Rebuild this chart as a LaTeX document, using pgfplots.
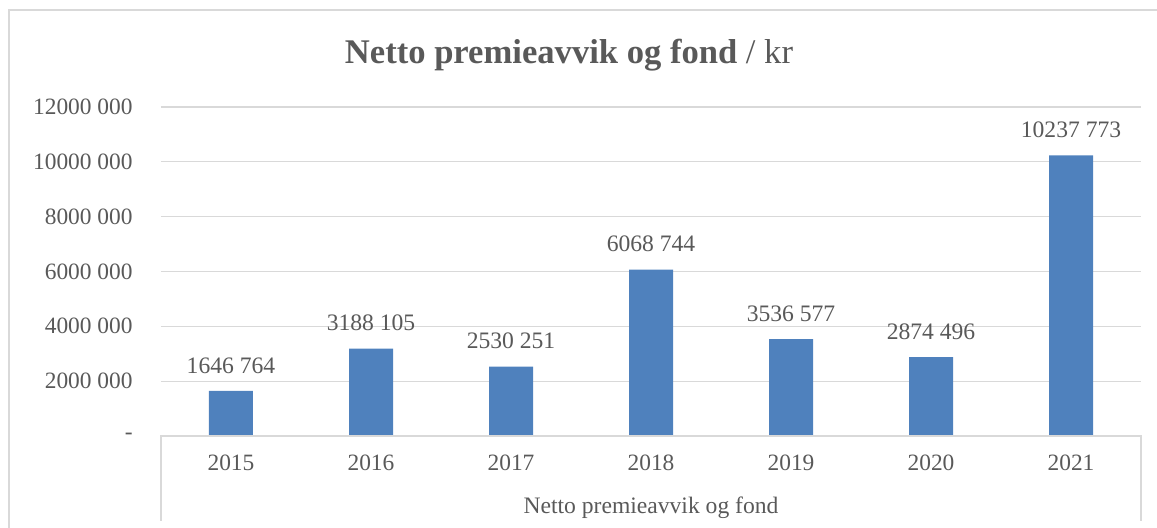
\documentclass[border=0pt]{standalone}
\usepackage{pgfplots}
\pgfplotsset{compat=1.18}
\usepackage{fontspec}
\setmainfont{Liberation Serif}
\definecolor{barblue}{HTML}{4F81BD}
\definecolor{txt}{HTML}{595959}
\definecolor{gridc}{HTML}{D9D9D9}
\definecolor{axc}{HTML}{D9D9D9}
\begin{document}
\begin{tikzpicture}
\path[use as bounding box] (0,0) rectangle (578.5pt,264pt);
\draw[gridc, line width=0.9pt] (4.5pt,0) -- (4.5pt,259pt) -- (578.5pt,259pt);
\begin{axis}[
  at={(80.5pt,46pt)}, anchor=south west,
  scale only axis, width=490pt, height=164.5pt,
  xmin=-0.5, xmax=6.5, ymin=0, ymax=12000000,
  xtick=data,
  xticklabels={2015,2016,2017,2018,2019,2020,2021},
  ytick={0,2000000,4000000,6000000,8000000,10000000,12000000},
  yticklabels={{-\hspace{6pt}},2000 000,4000 000,6000 000,8000 000,10000 000,12000 000},
  scaled y ticks=false,
  major tick length=0pt,
  axis line style={draw=none},
  ymajorgrids, grid style={gridc, line width=0.6pt},
  ticklabel style={font=\fontsize{11.7}{14}\selectfont, text=txt},
  xticklabel style={inner sep=0pt, anchor=north, yshift=-9.5pt},
  yticklabel style={inner sep=0pt, anchor=east, xshift=-14pt},
  point meta=explicit symbolic,
  nodes near coords,
  nodes near coords style={font=\fontsize{11.8}{14}\selectfont, text=txt, inner sep=0pt, anchor=south, yshift=8.5pt},
  clip=false,
]
\addplot[ybar, bar width=22pt, fill=barblue, draw=none] coordinates {
  (0,1646764) [1646 764]
  (1,3188105) [3188 105]
  (2,2530251) [2530 251]
  (3,6068744) [6068 744]
  (4,3536577) [3536 577]
  (5,2874496) [2874 496]
  (6,10237773) [10237 773]
};
\draw[axc, line width=0.8pt] ([yshift=-42.5pt]rel axis cs:0,0) -- (rel axis cs:0,0) -- (rel axis cs:1,0) -- ([yshift=-42.5pt]rel axis cs:1,0);
\end{axis}
\node[anchor=base, text=txt, font=\fontsize{11.8}{14}\selectfont, inner sep=0pt] at (325.5pt,7pt) {Netto premieavvik og fond};
\node[anchor=base, text=txt, font=\fontsize{17.3}{20}\selectfont, inner sep=0pt] at (284.5pt,232pt) {\textbf{Netto premieavvik og fond} / kr};
\end{tikzpicture}
\end{document}
